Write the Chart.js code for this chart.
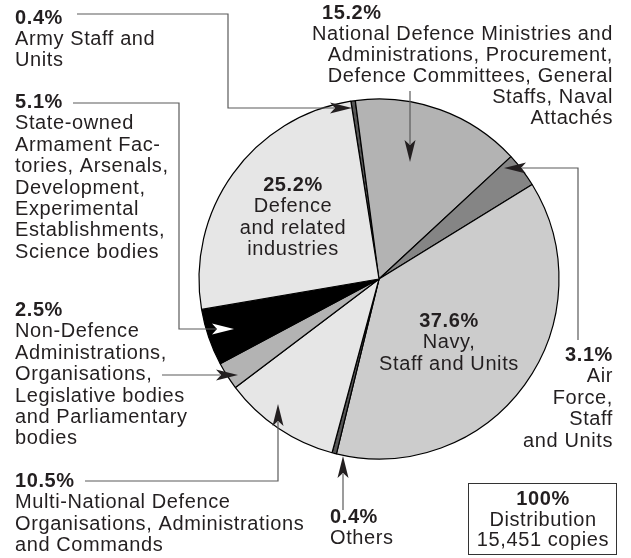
<!DOCTYPE html>
<html>
<head>
<meta charset="utf-8">
<script src="https://cdn.jsdelivr.net/npm/chart.js@4.4.1/dist/chart.umd.min.js"></script>
<style>
  html, body { margin: 0; padding: 0; background: #fff; }
  canvas { display: block; }
</style>
</head>
<body>
<canvas id="distributionChart" width="631" height="558"></canvas>
<script>
// slices, clockwise from the Army sliver at the top
const categories = [
  'Army Staff and Units',
  'National Defence Ministries and Administrations, Procurement, Defence Committees, General Staffs, Naval Attachés',
  'Air Force, Staff and Units',
  'Navy, Staff and Units',
  'Others',
  'Multi-National Defence Organisations, Administrations and Commands',
  'Non-Defence Administrations, Organisations, Legislative bodies and Parliamentary bodies',
  'State-owned Armament Factories, Arsenals, Development, Experimental Establishments, Science bodies',
  'Defence and related industries'
];
const shares = [0.4, 15.2, 3.1, 37.6, 0.4, 10.5, 2.5, 5.1, 25.2];
const sliceColours = ['#555555', '#b3b3b3', '#858585', '#cccccc', '#555555', '#e6e6e6', '#b3b3b3', '#000000', '#e6e6e6'];

// text lines shown for each slice (percent line is added from shares)
const labelLines = [
  ['Army Staff and', 'Units'],
  ['National Defence Ministries and', 'Administrations, Procurement,', 'Defence Committees, General', 'Staffs, Naval', 'Attachés'],
  ['Air', 'Force,', 'Staff', 'and Units'],
  ['Navy,', 'Staff and Units'],
  ['Others'],
  ['Multi-National Defence', 'Organisations, Administrations', 'and Commands'],
  ['Non-Defence', 'Administrations,', 'Organisations,', 'Legislative bodies', 'and Parliamentary', 'bodies'],
  ['State-owned', 'Armament Fac-', 'tories, Arsenals,', 'Development,', 'Experimental', 'Establishments,', 'Science bodies'],
  ['Defence', 'and related', 'industries']
];
const totalLines = ['100%', 'Distribution', '15,451 copies'];

const TEXT = '#231f20';
const LEAD = '#5a5a5a';
const FONT = '"Liberation Sans", Arial, Helvetica, sans-serif';
const LH = 21.4;

// where each label block sits: x, first baseline, alignment
const labelPos = [
  { x: 15, y: 23.5, align: 'left' },
  { x: 613, y: 18.5, align: 'right', pctX: 322 },
  { x: 613, y: 361, align: 'right' },
  { x: 449, y: 327, align: 'center' },
  { x: 330, y: 523, align: 'left' },
  { x: 15, y: 487, align: 'left' },
  { x: 15, y: 316, align: 'left' },
  { x: 15, y: 108, align: 'left' },
  { x: 293, y: 191, align: 'center' }
];

// leader lines: polyline ending at arrow tip, arrow direction, head colour
const leaders = [
  { pts: [[77, 14], [228, 14], [228, 108], [352, 108]], head: '#231f20' },
  { pts: [[410, 91], [410, 162]], head: '#231f20' },
  { pts: [[578, 340], [578, 168], [504, 168]], head: '#231f20' },
  null,
  { pts: [[343, 510], [343, 456]], head: '#231f20' },
  { pts: [[85, 481], [278, 481], [278, 404]], head: '#231f20' },
  { pts: [[162, 375], [238, 375]], head: '#231f20' },
  { pts: [[73, 103], [179, 103], [179, 329], [234, 329]], head: '#ffffff' },
  null
];

function drawArrow(ctx, leader) {
  const pts = leader.pts;
  const [tx, ty] = pts[pts.length - 1];
  const [px, py] = pts[pts.length - 2];
  const len = Math.hypot(tx - px, ty - py);
  const ux = (tx - px) / len, uy = (ty - py) / len;
  const headLen = 22, half = 5.5;
  const bx = tx - ux * headLen, by = ty - uy * headLen;

  ctx.strokeStyle = LEAD;
  ctx.lineWidth = 1.2;
  ctx.beginPath();
  ctx.moveTo(pts[0][0], pts[0][1]);
  for (let i = 1; i < pts.length - 1; i++) ctx.lineTo(pts[i][0], pts[i][1]);
  ctx.lineTo(bx + ux * 4, by + uy * 4);
  ctx.stroke();

  ctx.fillStyle = leader.head;
  ctx.beginPath();
  ctx.moveTo(tx, ty);
  ctx.lineTo(bx - uy * half, by + ux * half);
  ctx.lineTo(bx + ux * 5, by + uy * 5);
  ctx.lineTo(bx + uy * half, by - ux * half);
  ctx.closePath();
  ctx.fill();
}

function setFont(ctx, bold) {
  ctx.font = (bold ? 'bold ' : '') + '20px ' + FONT;
  ctx.letterSpacing = '0.6px';
}

const annotations = {
  id: 'annotations',
  afterDraw(chart) {
    const ctx = chart.ctx;
    ctx.save();
    leaders.forEach(l => { if (l) drawArrow(ctx, l); });

    ctx.fillStyle = TEXT;
    ctx.textBaseline = 'alphabetic';
    shares.forEach((v, i) => {
      const p = labelPos[i];
      let y = p.y;
      setFont(ctx, true);
      if (p.pctX !== undefined) {
        ctx.textAlign = 'left';
        ctx.fillText(v.toFixed(1) + '%', p.pctX, y);
        y += 21;
      } else {
        ctx.textAlign = p.align;
        ctx.fillText(v.toFixed(1) + '%', p.x, y);
        y += LH;
      }
      setFont(ctx, false);
      ctx.textAlign = p.align;
      labelLines[i].forEach(line => {
        ctx.fillText(line, p.x, y);
        y += p.pctX !== undefined ? 21.2 : LH;
      });
    });

    // total box
    ctx.strokeStyle = '#333';
    ctx.lineWidth = 1;
    ctx.strokeRect(468.5, 483.5, 148, 71);
    ctx.textAlign = 'center';
    totalLines.forEach((line, i) => {
      setFont(ctx, i === 0);
      ctx.fillText(line, 543, 505 + i * 20.6);
    });
    ctx.restore();
  }
};

new Chart(document.getElementById('distributionChart'), {
  type: 'pie',
  data: {
    labels: categories,
    datasets: [{
      data: shares,
      backgroundColor: sliceColours,
      borderColor: '#000000',
      borderWidth: 1.2,
      radius: 180
    }]
  },
  options: {
    responsive: false,
    animation: false,
    rotation: -9,
    layout: { padding: { left: 137, right: 10, top: 0, bottom: 0 } },
    plugins: {
      legend: { display: false },
      tooltip: { enabled: false }
    }
  },
  plugins: [annotations]
});
</script>
</body>
</html>
